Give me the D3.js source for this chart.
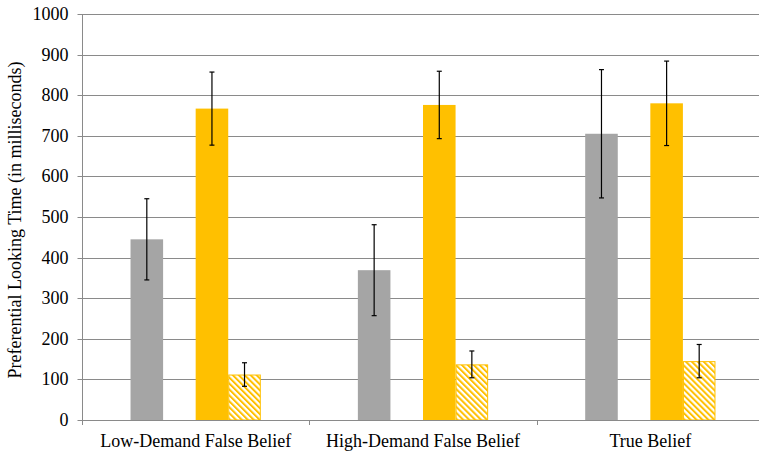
<!DOCTYPE html>
<html>
<head>
<meta charset="utf-8">
<script src="https://cdn.jsdelivr.net/npm/d3@7/dist/d3.min.js"></script>
<style>
  html, body { margin: 0; padding: 0; background: #fff; }
  svg { display: block; }
  text { font-family: "Liberation Serif", "Times New Roman", serif; fill: #000; }
</style>
</head>
<body>
<svg id="chart" width="759" height="455"></svg>
<script>
const categories = ["Low-Demand False Belief", "High-Demand False Belief", "True Belief"];
const seriesNames = ["gray", "blank", "orange", "hatched"];
const grayValues = [445, 369, 705];
const grayErrors = [100, 112, 158];
const orangeValues = [767, 776, 780];
const orangeErrors = [90, 83, 104];
const hatchedValues = [112, 137, 145];
const hatchedErrors = [29, 33, 41];
const yTicks = [0, 100, 200, 300, 400, 500, 600, 700, 800, 900, 1000];

const svg = d3.select("#chart");
const mLeft = 82, mRight = 764, mTop = 14, mBottom = 420;
const FONT = "Liberation Serif";
const FS = "18px";

const defs = svg.append("defs");
const pat = defs.append("pattern")
  .attr("id", "hatch")
  .attr("patternUnits", "userSpaceOnUse")
  .attr("width", 4.2).attr("height", 4.2)
  .attr("patternTransform", "rotate(-45)");
pat.append("rect").attr("width", 4.2).attr("height", 4.2).attr("fill", "#fff");
pat.append("rect").attr("x", 0).attr("y", 0).attr("width", 2).attr("height", 4.2).attr("fill", "#FFC000");

const x0 = d3.scaleBand().domain(categories).range([mLeft, mRight]).paddingInner(0).paddingOuter(0);
const x1 = d3.scaleBand().domain(seriesNames).range([0, x0.bandwidth()]).paddingInner(0).paddingOuter(1.49);
const y = d3.scaleLinear().domain([0, 1000]).range([mBottom, mTop]);

// gridlines
svg.append("g").selectAll("line").data(yTicks.filter(d => d > 0)).join("line")
  .attr("x1", mLeft).attr("x2", 759)
  .attr("y1", d => Math.round(y(d)) + 0.5).attr("y2", d => Math.round(y(d)) + 0.5)
  .attr("stroke", "#8a8a8a").attr("stroke-width", 1);

// y axis
const yAxis = d3.axisLeft(y).tickValues(yTicks).tickSize(5).tickPadding(9).tickFormat(d3.format("d"));
const gy = svg.append("g").attr("transform", `translate(${mLeft + 0.5},0.5)`).call(yAxis);
gy.attr("font-family", FONT).attr("font-size", FS);
gy.select(".domain").attr("stroke", "#8a8a8a").attr("d", `M0,${Math.round(y(1000))}V${Math.round(y(0))}`);
gy.selectAll(".tick line").attr("stroke", "#8a8a8a");
gy.selectAll(".tick text").style("font-family", FONT).style("font-size", FS).attr("fill", "#000");
gy.selectAll(".tick").attr("transform", d => `translate(0,${Math.round(y(d))})`);

const data = categories.map((c, i) => ({
  cat: c,
  bars: [
    { s: "gray", v: grayValues[i], e: grayErrors[i] },
    { s: "orange", v: orangeValues[i], e: orangeErrors[i] },
    { s: "hatched", v: hatchedValues[i], e: hatchedErrors[i] }
  ]
}));

const groups = svg.append("g").selectAll("g").data(data).join("g")
  .attr("transform", d => `translate(${x0(d.cat)},0)`);

groups.selectAll("rect").data(d => d.bars).join("rect")
  .attr("x", d => x1(d.s) + (d.s === "hatched" ? 0.5 : 0))
  .attr("width", d => x1.bandwidth() - (d.s === "hatched" ? 1 : 0))
  .attr("y", d => y(d.v) + (d.s === "hatched" ? 0.5 : 0))
  .attr("height", d => y(0) - y(d.v) - (d.s === "hatched" ? 0.5 : 0))
  .attr("fill", d => d.s === "gray" ? "#A5A5A5" : d.s === "orange" ? "#FFC000" : "url(#hatch)")
  .attr("stroke", d => d.s === "hatched" ? "#FFC000" : "none")
  .attr("stroke-width", 1);

// x axis line
svg.append("line").attr("x1", mLeft).attr("x2", 759)
  .attr("y1", Math.round(y(0)) + 0.5).attr("y2", Math.round(y(0)) + 0.5)
  .attr("stroke", "#8a8a8a");
// x ticks at group boundaries
const boundaries = categories.map(c => x0(c)).concat([mRight]);
svg.append("g").selectAll("line").data(boundaries).join("line")
  .attr("x1", d => Math.round(d) + 0.5).attr("x2", d => Math.round(d) + 0.5)
  .attr("y1", Math.round(y(0))).attr("y2", Math.round(y(0)) + 5)
  .attr("stroke", "#8a8a8a");

// error bars
const eb = groups.selectAll("g.err").data(d => d.bars).join("g").attr("class", "err");
eb.append("line")
  .attr("x1", d => x1(d.s) + x1.bandwidth() / 2).attr("x2", d => x1(d.s) + x1.bandwidth() / 2)
  .attr("y1", d => y(d.v + d.e)).attr("y2", d => y(d.v - d.e))
  .attr("stroke", "#000").attr("stroke-width", 1.2);
eb.selectAll("line.cap").data(d => [
  { s: d.s, val: d.v + d.e }, { s: d.s, val: d.v - d.e }
]).join("line").attr("class", "cap")
  .attr("x1", d => x1(d.s) + x1.bandwidth() / 2 - 2.5).attr("x2", d => x1(d.s) + x1.bandwidth() / 2 + 2.5)
  .attr("y1", d => y(d.val)).attr("y2", d => y(d.val))
  .attr("stroke", "#000").attr("stroke-width", 1.2);

// x labels
svg.append("g").selectAll("text").data(categories).join("text")
  .attr("x", d => x0(d) + x0.bandwidth() / 2)
  .attr("y", 447)
  .attr("text-anchor", "middle")
  .style("font-family", FONT)
  .style("font-size", FS)
  .text(d => d);

// y title
svg.append("text")
  .attr("transform", `translate(21,${(mTop + mBottom) / 2 + 3}) rotate(-90)`)
  .attr("text-anchor", "middle")
  .style("font-family", FONT)
  .style("font-size", FS)
  .text("Preferential Looking Time (in milliseconds)");
</script>
</body>
</html>
